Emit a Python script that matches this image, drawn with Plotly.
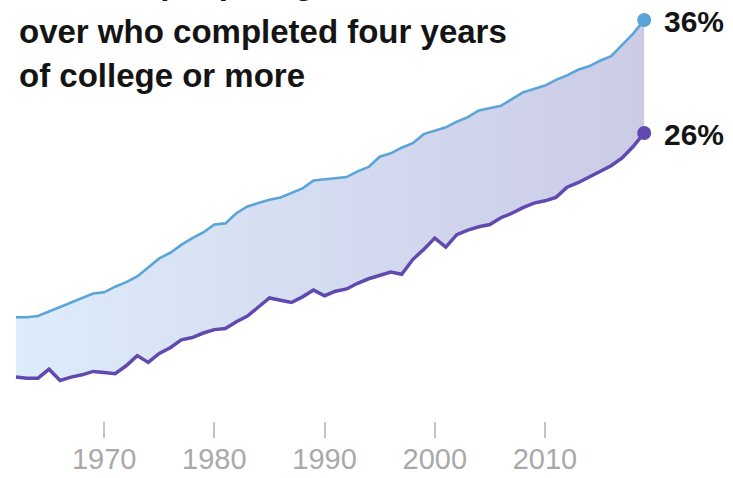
import plotly.graph_objects as go

years = list(range(1962, 2020))

upper_pct = [9.7, 9.7, 9.8, 10.2, 10.6, 11.0, 11.4, 11.8, 11.9, 12.4,
             12.8, 13.3, 14.1, 14.9, 15.4, 16.1, 16.7, 17.2, 17.9, 18.0,
             18.9, 19.5, 19.8, 20.1, 20.3, 20.7, 21.1, 21.8, 21.9, 22.0,
             22.1, 22.6, 23.0, 23.9, 24.2, 24.7, 25.1, 25.9, 26.2, 26.5,
             27.0, 27.4, 28.0, 28.2, 28.4, 29.0, 29.6, 29.9, 30.2, 30.7,
             31.1, 31.6, 31.9, 32.4, 32.8, 33.8, 34.8, 36.0]

lower_pct = [4.4, 4.3, 4.3, 5.1, 4.1, 4.4, 4.6, 4.9, 4.8, 4.7,
             5.4, 6.3, 5.7, 6.5, 7.0, 7.7, 7.9, 8.3, 8.6, 8.7,
             9.3, 9.8, 10.6, 11.4, 11.2, 11.0, 11.5, 12.1, 11.6, 12.0,
             12.2, 12.7, 13.1, 13.4, 13.7, 13.5, 14.8, 15.7, 16.7, 15.9,
             17.0, 17.4, 17.7, 17.9, 18.5, 18.9, 19.4, 19.8, 20.0, 20.3,
             21.2, 21.6, 22.1, 22.6, 23.1, 23.8, 24.8, 26.0]

tick_years = [1970, 1980, 1990, 2000, 2010]
tick_labels = ["1970", "1980", "1990", "2000", "2010"]

title_lines = ["Share of people aged 25 and",
               "over who completed four years",
               "of college or more"]
end_labels = ["36%", "26%"]

BLUE = "#5ba4d8"
PURPLE = "#6149b0"

fig = go.Figure()

# fill band between the two lines
fig.add_trace(go.Scatter(x=years, y=lower_pct, mode="lines",
                         line=dict(width=0), hoverinfo="skip",
                         showlegend=False))
fig.add_trace(go.Scatter(x=years, y=upper_pct, mode="lines",
                         line=dict(width=0), fill="tonexty",
                         fillgradient=dict(type="horizontal",
                                           colorscale=[[0, "#ddecfa"],
                                                       [1, "#cbcbe6"]]),
                         hoverinfo="skip", showlegend=False))

fig.add_trace(go.Scatter(x=years, y=upper_pct, mode="lines",
                         line=dict(color=BLUE, width=2.6),
                         showlegend=False))
fig.add_trace(go.Scatter(x=years, y=lower_pct, mode="lines",
                         line=dict(color=PURPLE, width=3.5),
                         showlegend=False))
fig.add_trace(go.Scatter(x=[years[-1]], y=[upper_pct[-1]], mode="markers",
                         marker=dict(color=BLUE, size=14),
                         showlegend=False))
fig.add_trace(go.Scatter(x=[years[-1]], y=[lower_pct[-1]], mode="markers",
                         marker=dict(color=PURPLE, size=14),
                         showlegend=False))

# end labels
for val, txt in zip([upper_pct[-1], lower_pct[-1]], end_labels):
    fig.add_annotation(x=years[-1], y=val, xref="x", yref="y",
                       text="<b>%s</b>" % txt, showarrow=False,
                       xanchor="left", yanchor="middle", xshift=18, yshift=-1,
                       font=dict(family="Liberation Sans", size=30,
                                 color="#141414"))

# title lines (first line runs off the top edge, as in the original crop)
for yy, line in zip([1.042, 0.925, 0.8195], title_lines):
    fig.add_annotation(x=17 / 733, y=yy, xref="paper", yref="paper",
                       text="<b>%s</b>" % line, showarrow=False,
                       xanchor="left", yanchor="middle",
                       font=dict(family="Liberation Sans", size=33,
                                 color="#141414"))

fig.update_layout(
    width=733, height=478,
    margin=dict(l=0, r=0, t=0, b=57),
    paper_bgcolor="white", plot_bgcolor="white",
    xaxis=dict(range=[1960.55, 2027.06], tickvals=tick_years,
               ticktext=tick_labels, showgrid=False, zeroline=False,
               showline=False, ticks="outside", ticklen=16, tickwidth=1.5,
               tickcolor="#c4c4c4", ticklabelstandoff=-4,
               tickfont=dict(family="Liberation Sans", size=29,
                             color="#a9a9a9")),
    yaxis=dict(range=[0.513, 37.77], showgrid=False, zeroline=False,
               showline=False, showticklabels=False, ticks=""),
)

fig.write_html("out.html")
